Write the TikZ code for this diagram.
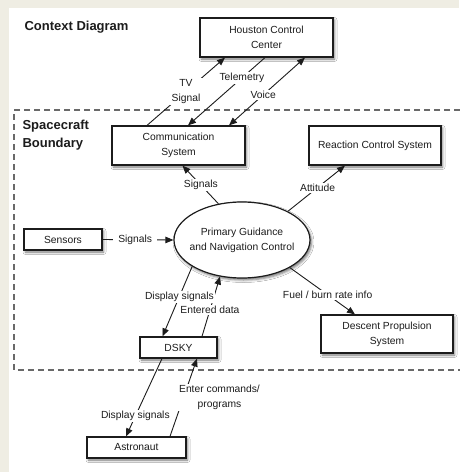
\documentclass[tikz,border=0pt]{standalone}
\usepackage{fontspec}
\setmainfont{Liberation Sans}
\usetikzlibrary{arrows.meta,shapes.geometric,shadows.blur}
\definecolor{page}{RGB}{239,237,227}
\definecolor{ink}{RGB}{28,28,28}
\definecolor{edge}{RGB}{105,105,105}
\begin{document}
\begin{tikzpicture}[x=1pt,y=-1pt,
  every node/.style={text=ink, font=\fontsize{10.3}{15}\selectfont},
  softshadow/.style={blur shadow={shadow xshift=1.5pt, shadow yshift=-2pt,
      shadow blur radius=2.5pt, shadow opacity=55}},
  box/.style={draw=ink, line width=1.2pt, fill=white, align=center,
      inner sep=0pt, softshadow},
  flow/.style={draw=ink, line width=0.9pt, -{Triangle[length=8pt,width=6.5pt]}},
  lbl/.style={fill=white, inner sep=1.2pt, align=center},
  heading/.style={font=\bfseries\fontsize{13}{18}\selectfont, align=left}]

% page and margins
\useasboundingbox (0,0) rectangle (459,472);
\fill[page] (0,0) rectangle (459,472);
\fill[white] (9,8) rectangle (459,472);

% spacecraft boundary
\draw[edge, line width=1.3pt, dash pattern=on 6pt off 4pt] (480,110) -- (14,110) -- (14,370) -- (480,370);

% headings
\node[heading, anchor=west] (title) at (21,27) {Context Diagram};
\node[heading, anchor=west] (bound) at (19,135) {Spacecraft\\Boundary};

% systems
\node[box, minimum width=133pt, minimum height=39pt] (houston) at (266.5,37.5) {Houston Control\\Center};
\node[box, minimum width=133pt, minimum height=39pt] (comm) at (178.5,145.5) {Communication\\System};
\node[box, minimum width=132pt, minimum height=39pt] (rcs) at (375,145.5) {Reaction Control System};
\node[box, minimum width=78pt, minimum height=21pt] (sensors) at (63,239.5) {Sensors};
\node[ellipse, draw=ink, line width=1.2pt, fill=white, align=center,
      inner xsep=-12pt, inner ysep=0pt,
      minimum width=136pt, minimum height=76pt, softshadow] (pgnc) at (242,240)
      {Primary Guidance\\and Navigation Control};
\node[box, minimum width=132pt, minimum height=38pt] (descent) at (387,334) {Descent Propulsion\\System};
\node[box, minimum width=77pt, minimum height=21pt] (dsky) at (178.5,347.5) {DSKY};
\node[box, minimum width=99pt, minimum height=21pt] (astro) at (136.5,447.5) {Astronaut};

% links to Houston
\draw[flow] ([xshift=-31.5pt]comm.north) -- node[lbl, pos=0.5] {TV\\Signal} ([xshift=-41.5pt]houston.south);
\draw[flow] ([xshift=-1.5pt]houston.south) -- node[lbl, pos=0.3] {Telemetry} ([xshift=9.5pt]comm.north);
\draw[flow, {Triangle[length=8pt,width=6.5pt]}-{Triangle[length=8pt,width=6.5pt]}]
  ([xshift=38.5pt]houston.south) -- node[lbl, pos=0.55] {Voice} ([xshift=50.5pt]comm.north);

% flows around the guidance computer
\draw[flow] (pgnc.123) -- node[lbl, pos=0.49] {Signals} ([xshift=4pt]comm.south);
\draw[flow] (pgnc.32) -- node[lbl, pos=0.52] {Attitude} ([xshift=-30pt]rcs.south);
\draw[flow] (sensors.east) -- node[lbl, pos=0.46, inner xsep=5pt] {Signals} (pgnc.west);
\draw[flow] (pgnc.-30) -- node[lbl, pos=0.58] {Fuel / burn rate info} ([xshift=-32pt]descent.north);
\draw[flow] ([xshift=23.5pt]dsky.north) -- node[lbl, pos=0.44] {Entered data} (pgnc.239);
\draw[flow] (pgnc.208) -- node[lbl, pos=0.43] {Display signals} ([xshift=-16pt]dsky.north);

% crew interface
\draw[flow] ([xshift=-16.5pt]dsky.south) -- node[lbl, pos=0.74] {Display signals} ([xshift=-10.5pt]astro.north);
\draw[flow] ([xshift=33.5pt]astro.north) -- node[lbl, pos=0.5, xshift=36pt] {Enter commands/\\programs} ([xshift=18.5pt]dsky.south);

\end{tikzpicture}
\end{document}
